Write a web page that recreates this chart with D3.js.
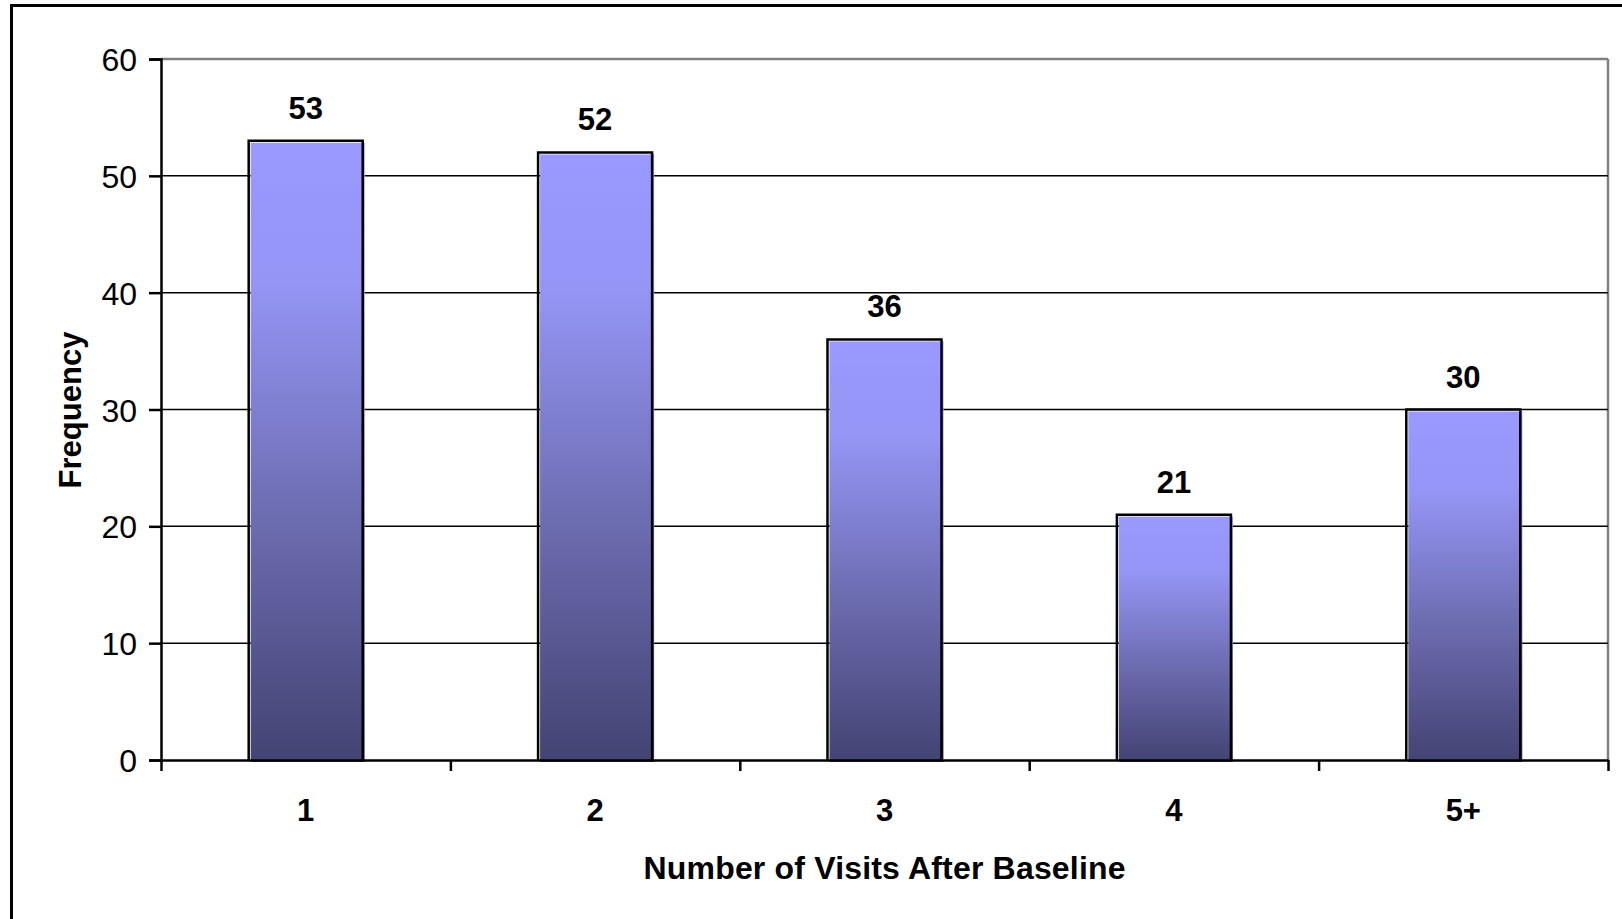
<!DOCTYPE html>
<html>
<head>
<meta charset="utf-8">
<script src="https://cdn.jsdelivr.net/npm/d3@7"></script>
<style>
  html, body { margin: 0; padding: 0; background: #fff; }
  svg { display: block; font-family: "Liberation Sans", Arial, sans-serif; }
</style>
</head>
<body>
<div id="vis"></div>
<script>
// data
const categories = ["1", "2", "3", "4", "5+"]
const frequency = [53, 52, 36, 21, 30]
const yTicks = [0, 10, 20, 30, 40, 50, 60]

const width = 1622
const height = 919
const margin = { top: 59, right: 14, bottom: 159, left: 161 }
const plotW = width - margin.left - margin.right
const plotH = height - margin.top - margin.bottom

const svg = d3.select("#vis")
    .append("svg")
    .attr("width", width)
    .attr("height", height)

// outer chart border
svg.append("rect")
    .attr("x", 11.5)
    .attr("y", 5.5)
    .attr("width", width + 20)
    .attr("height", height + 20)
    .attr("fill", "none")
    .attr("stroke", "#000")
    .attr("stroke-width", 3)

// bar gradient, light on top going dark at the bottom
const grad = svg.append("defs")
    .append("linearGradient")
    .attr("id", "barFill")
    .attr("x1", 0).attr("y1", 0)
    .attr("x2", 0).attr("y2", 1)
grad.append("stop").attr("offset", "0%").attr("stop-color", "#9999ff")
grad.append("stop").attr("offset", "22%").attr("stop-color", "#9595f6")
grad.append("stop").attr("offset", "60%").attr("stop-color", "#6d6db2")
grad.append("stop").attr("offset", "100%").attr("stop-color", "#434373")

const g = svg.append("g")
    .attr("transform", `translate(${margin.left},${margin.top})`)

const x = d3.scaleBand()
    .domain(categories)
    .range([0, plotW])
    .paddingInner(0.606)
    .paddingOuter(0.303)

const y = d3.scaleLinear()
    .domain([0, 60])
    .range([plotH, 0])

// top and right edges of plot area (grey)
g.append("line")
    .attr("x1", 0).attr("x2", plotW)
    .attr("y1", y(60)).attr("y2", y(60))
    .attr("stroke", "#808080").attr("stroke-width", 2.5)
g.append("line")
    .attr("x1", plotW).attr("x2", plotW)
    .attr("y1", y(60)).attr("y2", y(0))
    .attr("stroke", "#808080").attr("stroke-width", 2.5)

// gridlines
g.selectAll(".grid")
    .data(yTicks.filter(d => d > 0 && d < 60))
    .enter()
    .append("line")
    .attr("class", "grid")
    .attr("x1", 0).attr("x2", plotW)
    .attr("y1", d => y(d)).attr("y2", d => y(d))
    .attr("stroke", "#000")
    .attr("stroke-width", 1.5)

// bars: fill sits a little right/down of its outline, like the original
const bars = g.selectAll(".bar")
    .data(frequency)
    .enter()
    .append("g")
    .attr("class", "bar")

bars.append("rect")
    .attr("x", (d, i) => x(categories[i]) + 2)
    .attr("y", d => y(d) + 2)
    .attr("width", x.bandwidth())
    .attr("height", d => y(0) - y(d))
    .attr("fill", "url(#barFill)")

bars.append("path")
    .attr("d", (d, i) => {
        const x0 = x(categories[i]), x1 = x0 + x.bandwidth()
        return `M${x0},${y(0)}V${y(d)}H${x1}V${y(0)}`
    })
    .attr("fill", "none")
    .attr("stroke", "#000")
    .attr("stroke-width", 2.5)

// value labels
bars.append("text")
    .attr("x", (d, i) => x(categories[i]) + x.bandwidth() / 2)
    .attr("y", d => y(d) - 22)
    .attr("text-anchor", "middle")
    .attr("font-size", 31)
    .attr("font-weight", "bold")
    .text(d => d)

// y axis
const yAxis = g.append("g")
    .call(d3.axisLeft(y).tickValues(yTicks).tickSize(12).tickPadding(12))
yAxis.select(".domain").attr("stroke", "#000").attr("stroke-width", 2.5)
yAxis.selectAll(".tick line").attr("stroke", "#000").attr("stroke-width", 2.5)
yAxis.selectAll(".tick text")
    .attr("font-size", 32)
    .attr("font-family", "Liberation Sans, Arial, sans-serif")
    .attr("fill", "#000")
    .attr("dy", "0.36em")

// x axis: tick marks sit between categories
const xEdge = d3.scaleLinear().domain([0, categories.length]).range([0, plotW])
const xTicks = g.append("g")
    .attr("transform", `translate(0,${plotH})`)
    .call(d3.axisBottom(xEdge).ticks(categories.length).tickSize(11).tickSizeOuter(0).tickFormat(""))
xTicks.select(".domain").attr("stroke", "#000").attr("stroke-width", 2.5)
xTicks.selectAll(".tick line").attr("stroke", "#000").attr("stroke-width", 2.5)

const xLabels = g.append("g")
    .attr("transform", `translate(0,${plotH})`)
    .call(d3.axisBottom(x).tickSize(0).tickPadding(0))
xLabels.select(".domain").remove()
xLabels.selectAll(".tick text")
    .attr("y", 61)
    .attr("dy", 0)
    .attr("font-size", 31)
    .attr("font-weight", "bold")
    .attr("font-family", "Liberation Sans, Arial, sans-serif")
    .attr("fill", "#000")

// axis titles
svg.append("text")
    .attr("x", margin.left + plotW / 2)
    .attr("y", 879)
    .attr("text-anchor", "middle")
    .attr("font-size", 32)
    .attr("font-weight", "bold")
    .attr("textLength", 482)
    .text("Number of Visits After Baseline")

svg.append("text")
    .attr("transform", "translate(81,410) rotate(-90)")
    .attr("text-anchor", "middle")
    .attr("font-size", 31)
    .attr("font-weight", "bold")
    .text("Frequency")
</script>
</body>
</html>
